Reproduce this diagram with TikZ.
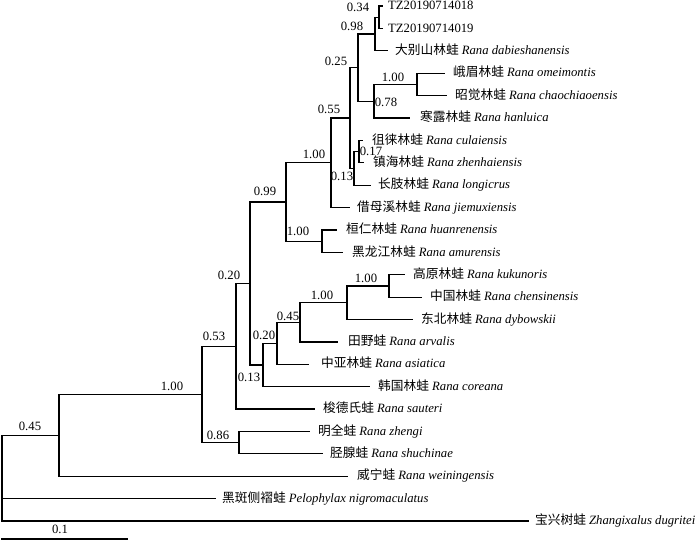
\documentclass[tikz,border=0pt]{standalone}
\usepackage{fontspec}
\setmainfont{Liberation Serif}
\newfontfamily\cjk{Noto Sans CJK SC}
\newcommand{\frog}[2]{{\cjk #1} \textit{#2}}
\tikzset{
  branch/.style={line width=1.2pt},
  leaf/.style={anchor=west, inner sep=0pt, text height=0.8em, text depth=0.05em},
  bs/.style={inner sep=0pt, text height=0.66em, text depth=0pt},
}

\begin{document}
\begin{tikzpicture}[x=1pt, y=-1pt, font=\fontsize{12.7}{15}\selectfont]
    \useasboundingbox (0,0) rectangle (700,541);

    % tips and species names
    \coordinate (t0) at (383,6.0);
    \coordinate (t1) at (383,28.4);
    \node[leaf] (l0) at (388,6.0) {TZ20190714018};
    \node[leaf] (l1) at (388,28.4) {TZ20190714019};
    \foreach \n/\y/\tx/\lx/\cn/\sp in {
        2/50.8/388/395/大别山林蛙/Rana dabieshanensis,
        3/73.2/445/453/峨眉林蛙/Rana omeimontis,
        4/95.6/447/455/昭觉林蛙/Rana chaochiaoensis,
        5/118.0/410/420/寒露林蛙/Rana hanluica,
        6/140.3/363/372/徂徕林蛙/Rana culaiensis,
        7/162.7/364/373/镇海林蛙/Rana zhenhaiensis,
        8/185.1/371/378/长肢林蛙/Rana longicrus,
        9/207.5/350/357/借母溪林蛙/Rana jiemuxiensis,
        10/229.9/337/346/桓仁林蛙/Rana huanrenensis,
        11/252.3/343/352/黑龙江林蛙/Rana amurensis,
        12/274.7/405/413/高原林蛙/Rana kukunoris,
        13/297.1/422/430/中国林蛙/Rana chensinensis,
        14/319.5/413/421/东北林蛙/Rana dybowskii,
        15/341.9/338/348/田野蛙/Rana arvalis,
        16/364.2/309/321/中亚林蛙/Rana asiatica,
        17/386.6/370/378/韩国林蛙/Rana coreana,
        18/409.0/315/323/梭德氏蛙/Rana sauteri,
        19/431.4/310/318/明全蛙/Rana zhengi,
        20/453.8/323/330/胫腺蛙/Rana shuchinae,
        21/476.2/348/357/威宁蛙/Rana weiningensis,
        22/498.6/216/222/黑斑侧褶蛙/Pelophylax nigromaculatus,
        23/521.0/529/535/宝兴树蛙/Zhangixalus dugritei}{
        \coordinate (t\n) at (\tx,\y);
        \node[leaf] (l\n) at (\lx,\y) {\frog{\cn}{\sp}};
    }

    % internal nodes
    \coordinate (N34) at (379,17.2);
    \coordinate (M) at (375,34.0);
    \coordinate (U) at (417,84.4);
    \coordinate (T) at (374,101.2);
    \coordinate (L) at (358,67.6);
    \coordinate (N17) at (359,151.5);
    \coordinate (J) at (354,168.3);
    \coordinate (K) at (350,118.0);
    \coordinate (I) at (331,162.8);
    \coordinate (S) at (322,241.1);
    \coordinate (R) at (286,202.0);
    \coordinate (H) at (389,285.9);
    \coordinate (G) at (347,302.7);
    \coordinate (F) at (300,322.3);
    \coordinate (E) at (277,343.3);
    \coordinate (D) at (263,365.0);
    \coordinate (C) at (250,283.5);
    \coordinate (P) at (236,346.3);
    \coordinate (Q) at (239,442.6);
    \coordinate (B) at (202,394.5);
    \coordinate (A) at (59,435.4);
    \coordinate (root) at (2,478.2);

    \foreach \p/\c in {root/A, root/t22, root/t23, A/B, A/t21, B/P, B/Q,
        Q/t19, Q/t20, P/C, P/t18, C/R, C/D, D/E, D/t17, E/F, E/t16,
        F/G, F/t15, G/H, G/t14, H/t12, H/t13, R/I, R/S, S/t10, S/t11,
        I/K, I/t9, K/L, K/J, J/N17, J/t8, N17/t6, N17/t7, L/M, L/T,
        M/N34, M/t2, N34/t0, N34/t1, T/U, T/t5, U/t3, U/t4}
        \draw[branch] (\p) |- (\c);

    % posterior probabilities
    \foreach \n/\v/\x/\y in {N34/0.34/358/8, M/0.98/352/27, L/0.25/336/62,
        U/1.00/393/78, T/0.78/386/103, K/0.55/329/110, N17/0.17/371/152,
        I/1.00/314/155, J/0.13/342/177, R/0.99/265/192, S/1.00/298/232,
        C/0.20/229/276, H/1.00/366/279, G/1.00/322/296, F/0.45/288/317,
        E/0.20/264/336, P/0.53/214/337, D/0.13/249/378, B/1.00/172/387,
        A/0.45/30/427, Q/0.86/218/436}
        \node[bs] (s\n) at (\x,\y) {\v};

    % scale bar
    \coordinate (sb0) at (1,539);
    \coordinate (sb1) at (128,539);
    \draw[branch] (sb0) -- (sb1);
    \node[bs] (sbl) at (60,530) {0.1};
\end{tikzpicture}
\end{document}
